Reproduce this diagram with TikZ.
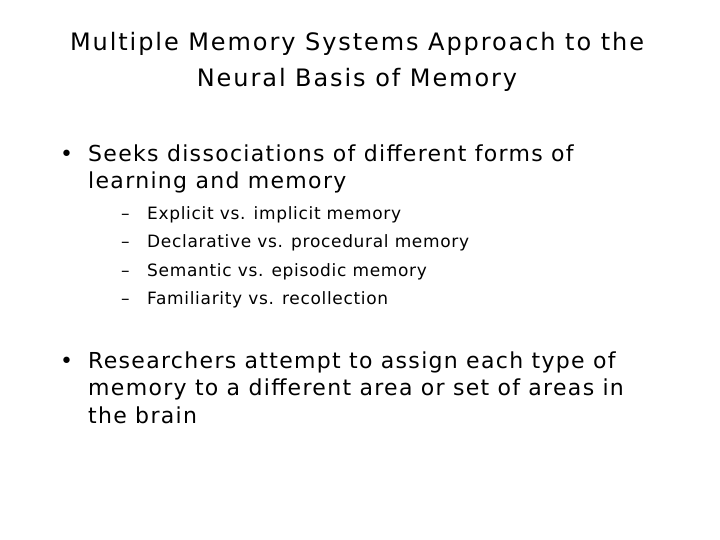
\documentclass[tikz,border=0pt]{standalone}
\usepackage{fontspec}
\setmainfont{DejaVu Sans}
\newfontfamily\titlef[LetterSpace=8]{DejaVu Sans}
\newfontfamily\bodyf[LetterSpace=6]{DejaVu Sans}
\newfontfamily\subf[LetterSpace=4]{DejaVu Sans}
\begin{document}
\begin{tikzpicture}[x=1pt,y=-1pt,
  ti/.style={anchor=mid,inner sep=0pt,font=\titlef\fontsize{24}{28}\selectfont},
  t/.style={anchor=mid west,inner sep=0pt,font=\bodyf\fontsize{22}{26}\selectfont},
  s/.style={anchor=mid west,inner sep=0pt,font=\subf\fontsize{17}{20}\selectfont}]
\useasboundingbox[fill=white] (0,0) rectangle (720,540);
\node[ti] (t1) at (357,48) {Multiple Memory Systems Approach to the};
\node[ti] (t2) at (357,84) {Neural Basis of Memory};
\node[t] (b1) at (60,159) {•};
\node[t] (l1) at (88,159) {Seeks dissociations of different forms of};
\node[t] (l2) at (88,186) {learning and memory};
\foreach \y/\txt [count=\i] in {217/Explicit vs. implicit memory,245/Declarative vs. procedural memory,274/Semantic vs. episodic memory,302/Familiarity vs. recollection}{
  \node[s] (d\i) at (121,\y) {–};
  \node[s] (s\i) at (147,\y) {\txt};
}
\node[t] (b2) at (60,366) {•};
\node[t] (m1) at (88,366) {Researchers attempt to assign each type of};
\node[t] (m2) at (88,393) {memory to a different area or set of areas in};
\node[t] (m3) at (88,421) {the brain};
\end{tikzpicture}
\end{document}
